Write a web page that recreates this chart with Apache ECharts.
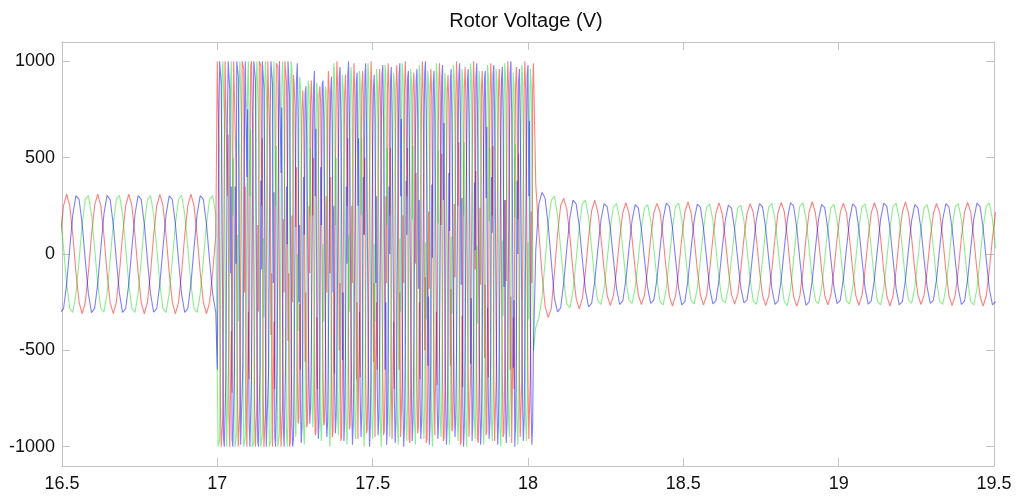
<!DOCTYPE html>
<html>
<head>
<meta charset="utf-8">
<script src="https://cdn.jsdelivr.net/npm/echarts@6/dist/echarts.min.js"></script>
<style>
html,body{margin:0;padding:0;background:#fff;}
#chart{width:1024px;height:501px;}
</style>
</head>
<body>
<div id="chart"></div>
<script>
// ---- Data (time in s, voltage in V) ----
const chartTitle = 'Rotor Voltage (V)';
const xTicks = [16.5, 17, 17.5, 18, 18.5, 19, 19.5];
const yTicks = [-1000, -500, 0, 500, 1000];

// Pre-fault segment: samples every 0.01 s from 16.495 s
const leftStart = 16.495, leftStep = 0.01;
const leftRed = [
96, 251, 310, 251, 96, -96, -251, -310, -251, -96,
98, 252, 311, 250, 95, -97, -252, -309, -250, -95,
96, 251, 310, 251, 96, -96, -251, -310, -251, -96,
97, 250, 309, 252, 97, -95, -250, -311, -252, -97,
96, 251, 310, 251, 96, -96, -251, -310, -251, -96,
96];
const leftBlue = [
-303, -283, -155, 32, 207, 303, 283, 155, -32, -207,
-304, -282, -156, 31, 208, 304, 282, 154, -33, -206,
-303, -283, -155, 32, 207, 303, 283, 155, -32, -207,
-302, -284, -154, 33, 206, 302, 284, 156, -31, -208,
-303, -283, -155, 32, 207, 303, 283, 155, -32, -207,
-303];
const leftGreen = [
207, 32, -155, -283, -303, -207, -32, 155, 283, 303,
206, 30, -155, -282, -302, -207, -30, 155, 283, 304,
207, 32, -155, -283, -303, -207, -32, 155, 283, 303,
205, 34, -155, -285, -303, -207, -34, 155, 283, 305,
207, 32, -155, -283, -303, -207, -32, 155, 283, 303,
207];

// Fault segment: samples every 0.0025 s from 17.000 s
const midStart = 17.0, midStep = 0.0025;
const midRed = [
1000, 1000, 560, -150, -790, -1000, -1000, -850, -210, 480, 1000,
1000, 1000, 300, 620, -840, -1000, -1000, -400, -720, 540, 1000,
1000, 990, 470, -200, -760, -1000, -1000, -800, -140, 520, 1000,
1000, 960, -200, 350, -770, -1000, -990, -300, -650, 450, 980,
1000, 1000, 520, -180, -800, -1000, -1000, -760, 150, -300, 1000,
1000, 980, 250, 600, -700, -1000, -1000, -820, -180, 500, 1000,
1000, 1000, 480, -420, -100, -1000, -1000, -350, -700, 460, 990,
1000, 970, 500, -160, -780, -1000, -1000, -790, 180, -200, 1000,
1000, 890, 470, -450, -100, -1000, -980, -690, 200, -250, 930,
880, 770, 140, 450, -610, -880, -850, -260, -600, 400, 740,
850, 720, 360, -560, -200, -900, -880, -650, 250, -100, 780,
900, 760, 200, 500, -680, -940, -920, -330, -700, 390, 820,
870, 790, 350, -150, -580, -890, -870, -620, 300, -200, 760,
950, 840, -100, 400, -660, -950, -920, -200, -620, 430, 810,
1000, 850, 400, -500, -150, -970, -950, -670, -120, 440, 830,
930, 770, 250, 600, -630, -910, -890, -600, 250, -150, 800,
990, 830, 430, -650, -250, -960, -970, -300, -640, 400, 850,
950, 820, 100, 500, -640, -930, -910, -650, -150, 410, 790,
1000, 850, 420, -560, -150, -950, -960, -250, -600, 420, 840,
960, 800, 410, -150, -620, -940, -920, -640, 300, -150, 820,
990, 840, 200, 550, -670, -960, -950, -350, -700, 430, 850,
980, 830, 420, -600, -200, -950, -940, -660, 200, -150, 840,
1000, 850, 300, 550, -660, -960, -980, -640, -150, 420, 860,
940, 800, -50, 420, -650, -930, -900, -250, -650, 400, 800,
1000, 840, 420, -500, -120, -980, -960, -660, 220, -180, 850,
960, 820, 380, -140, -640, -940, -930, -300, -680, 420, 830,
990, 850, 150, 520, -660, -970, -950, -650, -140, 430, 840,
930, 790, 410, -580, -180, -920, -900, -620, 260, -120, 790,
1000, 860, 250, 580, -680, -990, -970, -320, -690, 440, 860,
970, 820, 400, -150, -630, -950, -940, -650, -130, 410, 820,
1000, 840, -80, 430, -670, -960, -980, -640, 240, -160, 850,
950, 810, 420, -540, -160, -940, -920, -280, -640, 400, 810,
990, 850, 200, 560, -660, -970, -960, -660, -150, 430, 850,
960, 820, 410, -150, -640, -950, -930, -620, 280, -140, 820,
1000, 860, 420, -600, -220, -980, -970, -330, -700, 440, 860,
970, 830, 180, 520, -650, -950, -940, -650, -140, 420, 830,
1000, 850, 410, -150, -660, -960, -950, -640, 220, -150, 850,
990];
const midBlue = [
-600, 80, 700, 1000, 1000, 880, 320, -430, -960, -1000, -1000,
-640, 30, 720, 1000, 1000, 850, -100, 350, -960, -1000, -1000,
-590, 350, -50, 1000, 1000, 920, 310, -440, -990, -1000, -1000,
-560, 40, 690, 1000, 1000, 400, 750, -400, -880, -1000, -1000,
-620, 60, 730, 1000, 1000, 900, 280, -450, -970, -1000, -1000,
-580, 380, -80, 1000, 1000, 860, 300, -420, -1000, -1000, -1000,
-600, 50, 700, 1000, 1000, 880, -150, 320, -950, -1000, -1000,
-560, 40, 680, 1000, 1000, 420, 760, -380, -900, -1000, -1000,
-530, 350, 50, 1000, 1000, 820, 230, -340, -890, -1000, -960,
-520, 30, 600, 910, 990, 700, -250, 150, -760, -980, -900,
-420, 400, 100, 830, 870, 610, 230, -300, -670, -880, -800,
-500, 20, 580, 870, 950, 300, 650, -330, -740, -960, -870,
-480, 450, 150, 880, 900, 700, 260, -310, -800, -950, -870,
-450, 30, 560, 850, 920, 650, -200, 250, -710, -930, -840,
-510, 60, 550, 920, 970, 690, 210, -550, -200, -970, -860,
-490, 350, -50, 930, 1000, 730, 220, -320, -790, -990, -880,
-460, 60, 530, 890, 940, 250, 600, -300, -760, -950, -830,
-510, 400, 100, 920, 990, 720, 230, -340, -780, -1000, -890,
-480, 30, 560, 860, 930, 700, -150, 300, -720, -940, -850,
-500, 60, 570, 930, 980, 710, 250, -600, -250, -990, -880,
-480, 350, 0, 900, 970, 700, 220, -310, -770, -980, -870,
-500, 50, 590, 930, 990, 300, 700, -330, -790, -1000, -890,
-490, 380, 100, 910, 950, 690, 230, -320, -760, -970, -860,
-470, 40, 560, 900, 960, 700, -180, 280, -750, -960, -870,
-510, 60, 580, 940, 1000, 720, 240, -580, -220, -990, -880,
-480, 360, -20, 890, 950, 690, 230, -310, -770, -960, -860,
-500, 50, 570, 920, 980, 280, 680, -330, -780, -990, -880,
-470, 420, 120, 900, 960, 700, 220, -300, -750, -950, -850,
-500, 40, 580, 930, 990, 720, -160, 290, -780, -1000, -890,
-490, 60, 560, 900, 960, 700, 240, -570, -230, -970, -860,
-510, 370, 20, 920, 990, 720, 230, -330, -790, -990, -880,
-480, 50, 580, 910, 950, 290, 660, -320, -760, -960, -870,
-500, 400, 110, 930, 980, 710, 240, -330, -780, -990, -880,
-490, 40, 570, 920, 970, 700, -170, 280, -770, -980, -870,
-510, 60, 590, 940, 1000, 730, 250, -590, -240, -1000, -890,
-480, 380, 0, 900, 960, 700, 230, -310, -770, -970, -860,
-500, 50, 580, 930, 980, 300, 690, -330, -790, -990, -880,
-490];
const midGreen = [
-650, -1000, -1000, -960, -380, 270, 920, 1000, 1000, 700, 40,
-610, -1000, -1000, -1000, -430, 320, 880, 1000, 1000, 200, 500,
-620, -1000, -1000, -920, 100, -350, 850, 1000, 1000, 680, 30,
-580, -1000, -1000, -950, -410, 260, 880, 1000, 1000, 300, 650,
-640, -1000, -1000, -980, -400, 290, 900, 1000, 1000, 690, 50,
-600, -1000, -1000, -940, 80, -330, 870, 1000, 1000, 710, 60,
-630, -1000, -1000, -970, -390, 280, 910, 1000, 1000, 250, 560,
-590, -1000, -1000, -930, -420, 250, 870, 1000, 1000, 680, 40,
-200, -920, -1000, -840, -320, 270, 740, 1000, 960, 620, 30,
-460, -860, -950, -730, 0, -400, 700, 920, 870, 570, 60,
-500, -880, -990, -800, -310, 250, 720, 900, 870, 200, 550,
-150, -790, -900, -690, -310, 230, 640, 890, 820, 540, 20,
-480, -880, -970, -790, 50, -350, 690, 870, 850, 580, 60,
-510, -890, -1000, -780, -340, 230, 730, 990, 930, 150, 500,
-460, -840, -940, -720, -320, 210, 690, 930, 860, 560, 30,
-500, -880, -990, -790, 100, -300, 710, 970, 920, 580, 50,
-470, -860, -960, -740, -330, 220, 700, 950, 880, 200, 600,
-200, -890, -1000, -790, -320, 250, 720, 990, 920, 580, 40,
-480, -870, -960, -770, 50, -350, 690, 960, 890, 570, 50,
-500, -880, -1000, -780, -330, 230, 730, 980, 930, 150, 550,
-470, -850, -950, -750, -310, 220, 690, 940, 880, 550, 50,
-500, -890, -990, -790, 80, -300, 720, 990, 930, 580, 50,
-490, -870, -970, -770, -320, 230, 700, 960, 900, 180, 560,
-180, -880, -990, -780, -330, 240, 720, 980, 920, 570, 40,
-480, -860, -960, -760, 60, -340, 700, 950, 890, 560, 50,
-500, -890, -1000, -790, -320, 240, 730, 990, 930, 160, 540,
-470, -850, -950, -750, -310, 230, 700, 940, 880, 560, 40,
-500, -880, -990, -780, 90, -310, 720, 980, 920, 580, 60,
-480, -870, -970, -770, -320, 230, 700, 960, 900, 200, 580,
-190, -890, -1000, -790, -330, 250, 730, 990, 930, 580, 40,
-470, -860, -960, -760, 40, -360, 690, 950, 890, 560, 50,
-500, -880, -990, -790, -320, 240, 720, 980, 920, 170, 550,
-480, -870, -970, -770, -310, 230, 700, 960, 900, 570, 50,
-500, -890, -1000, -790, 70, -320, 720, 990, 930, 580, 40,
-470, -850, -950, -750, -320, 220, 690, 940, 880, 190, 570,
-500, -880, -990, -780, -330, 240, 720, 980, 920, 570, 50,
-480, -870, -970, -770, 60, -340, 700, 960, 900, 560, 40,
-500];

// Post-fault segment: samples every 0.01 s from 18.025 s
const rightStart = 18.025, rightStep = 0.01;
const rightRed = [
360, 110, -100, -270, -330, -280, -100, 100, 250, 290,
230, 90, -90, -230, -285, -230, -90, 85, 225, 280,
216, 83, -82, -216, -268, -215, -84, 81, 214, 267,
212, 80, -81, -212, -262, -213, -80, 82, 213, 263,
218, 84, -83, -219, -270, -217, -83, 84, 218, 270,
214, 82, -82, -214, -265, -214, -82, 82, 214, 265,
210, 80, -80, -211, -260, -210, -81, 80, 211, 261,
217, 83, -83, -216, -268, -217, -82, 83, 216, 268,
220, 84, -84, -220, -272, -219, -84, 84, 219, 271,
214, 81, -82, -213, -264, -214, -81, 82, 213, 264,
215, 82, -82, -215, -266, -215, -82, 82, 215, 266,
218, 83, -84, -218, -270, -218, -83, 83, 218, 270,
212, 81, -81, -212, -262, -212, -81, 81, 212, 262,
217, 83, -83, -217, -268, -216, -83, 83, 217, 268,
218, 83, -83, -218, -270, -218, -83, 83, 218];
const rightBlue = [
20, 260, 320, 290, 150, -40, -230, -300, -280, -150,
30, 190, 280, 260, 145, -30, -190, -275, -255, -140,
28, 179, 262, 245, 134, -28, -179, -262, -245, -134,
28, 175, 256, 239, 131, -28, -175, -256, -239, -131,
28, 181, 264, 247, 135, -28, -181, -264, -247, -135,
28, 177, 259, 242, 133, -28, -177, -259, -242, -133,
27, 174, 254, 238, 130, -27, -174, -254, -238, -130,
28, 179, 262, 245, 134, -28, -179, -262, -245, -134,
29, 182, 266, 249, 136, -29, -182, -266, -249, -136,
28, 177, 258, 241, 132, -28, -177, -258, -241, -132,
28, 178, 260, 243, 133, -28, -178, -260, -243, -133,
28, 181, 264, 247, 135, -28, -181, -264, -247, -135,
28, 175, 256, 239, 131, -28, -175, -256, -239, -131,
28, 179, 262, 245, 134, -28, -179, -262, -245, -134,
28, 181, 264, 247, 135, -28, -181, -264, -247];
const rightGreen = [
-380, -330, -230, -40, 160, 280, 300, 200, 30, -140,
-260, -280, -190, -30, 140, 260, 280, 190, 30, -140,
-245, -262, -179, -28, 134, 245, 262, 179, 28, -134,
-239, -256, -175, -28, 131, 239, 256, 175, 28, -131,
-247, -264, -181, -28, 135, 247, 264, 181, 28, -135,
-242, -259, -177, -28, 133, 242, 259, 177, 28, -133,
-238, -254, -174, -27, 130, 238, 254, 174, 27, -130,
-245, -262, -179, -28, 134, 245, 262, 179, 28, -134,
-249, -266, -182, -29, 136, 249, 266, 182, 29, -136,
-241, -258, -177, -28, 132, 241, 258, 177, 28, -132,
-243, -260, -178, -28, 133, 243, 260, 178, 28, -133,
-247, -264, -181, -28, 135, 247, 264, 181, 28, -135,
-239, -256, -175, -28, 131, 239, 256, 175, 28, -131,
-245, -262, -179, -28, 134, 245, 262, 179, 28, -134,
-247, -264, -181, -28, 135, 247, 264, 181, 28];

// ---- Build series data ----
function seg(t0, dt, vals) {
  return vals.map((v, i) => [+(t0 + i * dt).toFixed(4), v]);
}
function phase(l, m, r) {
  return seg(leftStart, leftStep, l).concat(seg(midStart, midStep, m), seg(rightStart, rightStep, r));
}
const redData = phase(leftRed, midRed, rightRed);
const greenData = phase(leftGreen, midGreen, rightGreen);
const blueData = phase(leftBlue, midBlue, rightBlue);

const FONT = '"Liberation Sans", Arial, Helvetica, sans-serif';
const frame = '#c4c4c4';

const chart = echarts.init(document.getElementById('chart'), null, {renderer: 'canvas'});
const xCommon = {
  type: 'value', min: 16.5, max: 19.5, interval: 0.5,
  axisLine: {show: true, onZero: false, lineStyle: {color: frame, width: 1}},
  axisTick: {show: true, inside: true, length: 8, lineStyle: {color: frame}},
  splitLine: {show: false}
};
const yCommon = {
  type: 'value', min: -1100, max: 1100,
  axisLine: {show: true, onZero: false, lineStyle: {color: frame, width: 1}},
  axisTick: {show: true, inside: true, length: 8, customValues: yTicks, lineStyle: {color: frame}},
  splitLine: {show: false}
};
function line(name, data, color) {
  return {
    name, type: 'line', data, xAxisIndex: 0, yAxisIndex: 0,
    showSymbol: false, symbol: 'none', clip: true,
    lineStyle: {color, width: 1.1}, itemStyle: {color},
    emphasis: {disabled: true}
  };
}
chart.setOption({
  animation: false,
  backgroundColor: '#ffffff',
  title: {
    text: chartTitle, left: 521, top: 6, textAlign: 'center',
    textStyle: {fontFamily: FONT, fontSize: 20, fontWeight: 'normal', color: '#111'}
  },
  grid: {left: 62, right: 30, top: 42, bottom: 35, containLabel: false},
  xAxis: [
    Object.assign({}, xCommon, {position: 'bottom',
      axisLabel: {show: true, color: '#111', fontFamily: FONT, fontSize: 18, margin: 9,
        formatter: v => String(v)}}),
    Object.assign({}, xCommon, {position: 'top', axisLabel: {show: false}})
  ],
  yAxis: [
    Object.assign({}, yCommon, {position: 'left',
      axisLabel: {show: true, customValues: yTicks, color: '#111', fontFamily: FONT, fontSize: 18, margin: 7,
        formatter: v => String(v)}}),
    Object.assign({}, yCommon, {position: 'right', axisLabel: {show: false}})
  ],
  series: [
    line('Phase a', redData, 'rgba(255,0,0,0.5)'),
    line('Phase c', greenData, 'rgba(0,215,0,0.45)'),
    line('Phase b', blueData, 'rgba(0,0,255,0.5)')
  ]
});
</script>
</body>
</html>
